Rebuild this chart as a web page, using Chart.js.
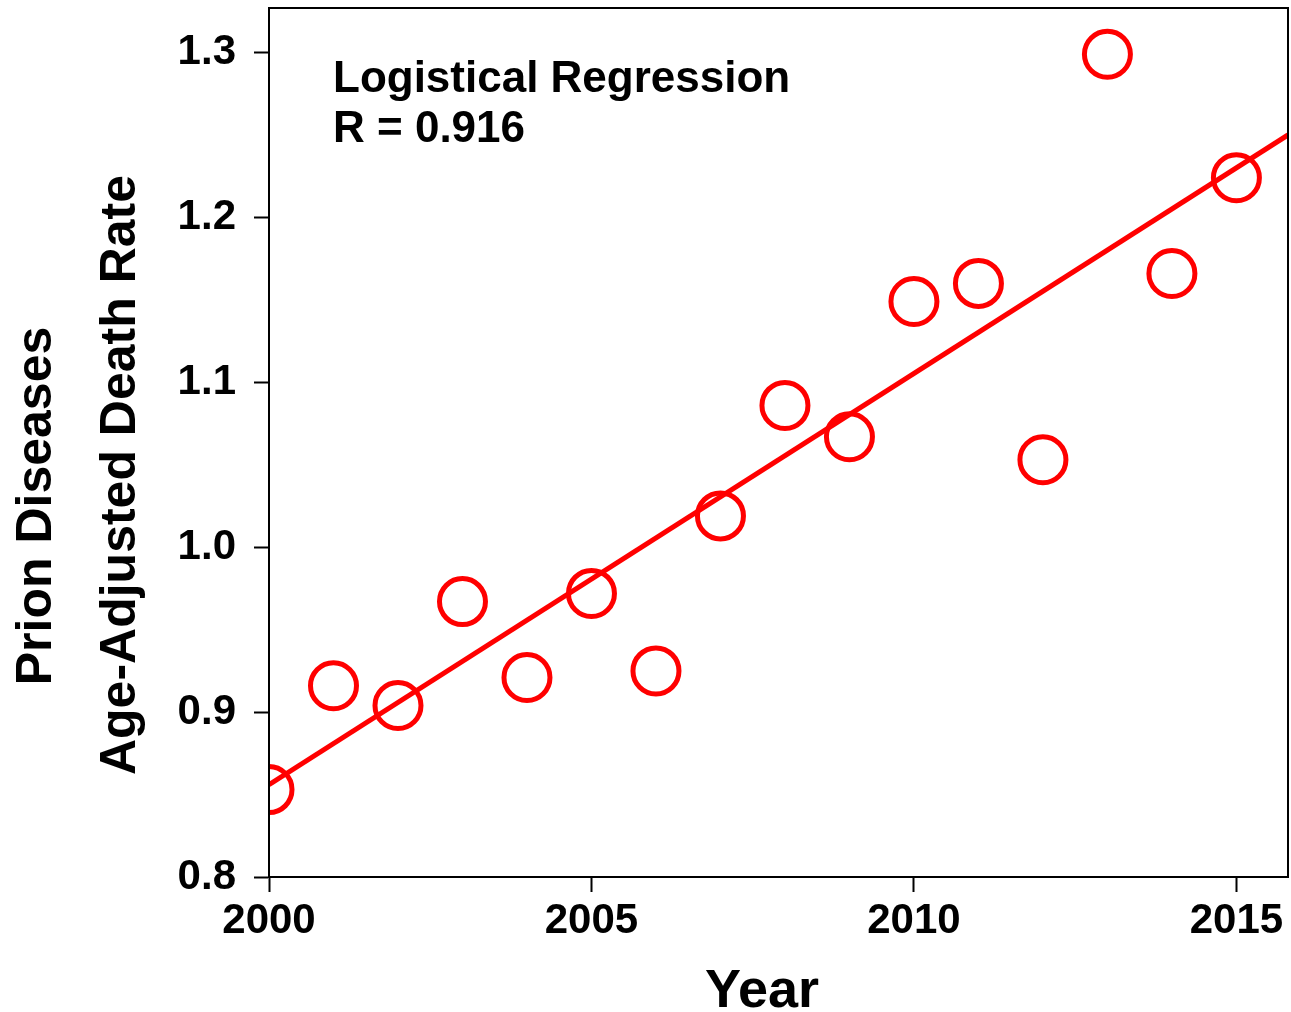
<!DOCTYPE html>
<html>
<head>
<meta charset="utf-8">
<title>Prion Diseases Age-Adjusted Death Rate</title>
<script src="https://cdn.jsdelivr.net/npm/chart.js@4/dist/chart.umd.min.js"></script>
<style>
  html, body { margin: 0; padding: 0; background: #fff; }
  #wrap { width: 1291px; height: 1012px; position: relative; }
</style>
</head>
<body>
<div id="wrap"><canvas id="deathChart"></canvas></div>
<script>
const years = [2000, 2001, 2002, 2003, 2004, 2005, 2006, 2007, 2008, 2009, 2010, 2011, 2012, 2013, 2014, 2015];
const rates = [0.853, 0.916, 0.904, 0.967, 0.921, 0.972, 0.925, 1.019, 1.086, 1.067, 1.149, 1.160, 1.053, 1.299, 1.166, 1.224];

// regression line ends
const fitYears = [2000, 2015.8];
const fitRates = [0.856, 1.250];

const xTicks = [2000, 2005, 2010, 2015];
const yTicks = [0.8, 0.9, 1.0, 1.1, 1.2, 1.3];

const FONT = "'Liberation Sans', Arial, sans-serif";
const RED = "#ff0000";

// no extra room for overflowing tick labels
function noPad(s) {
  s.paddingLeft = 0;
  s.paddingRight = 0;
  s.paddingTop = 0;
  s.paddingBottom = 0;
}

// frame, annotation and axis titles
const extras = {
  id: "extras",
  afterDraw(chart) {
    const { ctx, chartArea: a } = chart;
    ctx.save();
    ctx.strokeStyle = "#000";
    ctx.lineWidth = 2;
    ctx.strokeRect(a.left, a.top, a.right - a.left, a.bottom - a.top);

    ctx.fillStyle = "#000";
    ctx.textAlign = "left";
    ctx.textBaseline = "alphabetic";
    ctx.font = "bold 44px " + FONT;
    ctx.fillText("Logistical Regression", 333, 92);
    ctx.fillText("R = 0.916", 333, 142);

    ctx.textAlign = "center";
    ctx.font = "bold 54px " + FONT;
    ctx.fillText("Year", 762, 1007);

    ctx.font = "bold 50px " + FONT;
    ctx.translate(51, 506);
    ctx.rotate(-Math.PI / 2);
    ctx.fillText("Prion Diseases", 0, 0);
    ctx.rotate(Math.PI / 2);
    ctx.translate(84, -31);
    ctx.rotate(-Math.PI / 2);
    ctx.fillText("Age-Adjusted Death Rate", 0, 0);
    ctx.restore();
  },
};

new Chart(document.getElementById("deathChart"), {
  type: "scatter",
  data: {
    datasets: [
      {
        label: "Death rate",
        data: years.map((y, i) => ({ x: y, y: rates[i] })),
        pointStyle: "circle",
        pointRadius: 23,
        pointHoverRadius: 23,
        pointBorderWidth: 5,
        pointHoverBorderWidth: 5,
        borderColor: RED,
        backgroundColor: "rgba(0,0,0,0)",
        clip: 0,
      },
      {
        type: "line",
        label: "Fit",
        data: fitYears.map((y, i) => ({ x: y, y: fitRates[i] })),
        borderColor: RED,
        borderWidth: 5,
        pointRadius: 0,
        fill: false,
        clip: 0,
      },
    ],
  },
  options: {
    responsive: true,
    maintainAspectRatio: false,
    animation: false,
    layout: { autoPadding: false, padding: { top: 8, right: 3, left: 0, bottom: 0 } },
    plugins: {
      legend: { display: false },
      tooltip: { enabled: false },
    },
    scales: {
      x: {
        type: "linear",
        min: 2000,
        max: 2015.8,
        afterBuildTicks: (s) => { s.ticks = xTicks.map((v) => ({ value: v })); },
        afterFit: (s) => { s.height = 135; noPad(s); },
        border: { display: true, color: "#000", width: 2 },
        grid: { drawOnChartArea: false, drawTicks: true, tickLength: 15, tickWidth: 2, tickColor: "#000" },
        ticks: {
          color: "#000",
          padding: 4,
          maxRotation: 0,
          font: { family: FONT, size: 42, weight: "bold" },
          callback: (v) => String(v),
        },
      },
      y: {
        min: 0.8,
        max: 1.327,
        afterBuildTicks: (s) => { s.ticks = yTicks.map((v) => ({ value: v })); },
        afterFit: (s) => { s.width = 269; noPad(s); },
        border: { display: true, color: "#000", width: 2 },
        grid: { drawOnChartArea: false, drawTicks: true, tickLength: 15, tickWidth: 2, tickColor: "#000" },
        ticks: {
          color: "#000",
          padding: 18,
          font: { family: FONT, size: 42, weight: "bold" },
          callback: (v) => Number(v).toFixed(1),
        },
      },
    },
  },
  plugins: [extras],
});
</script>
</body>
</html>
